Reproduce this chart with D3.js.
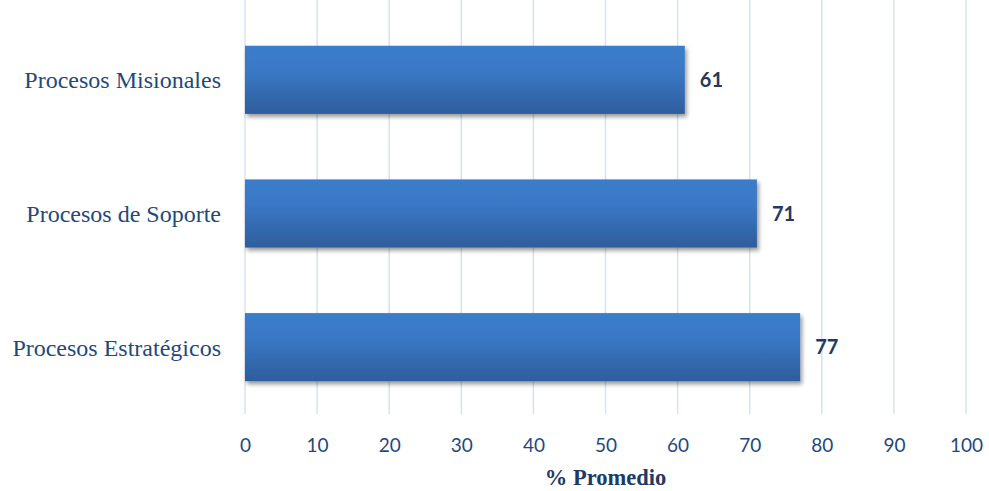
<!DOCTYPE html>
<html>
<head>
<meta charset="utf-8">
<script src="https://cdn.jsdelivr.net/npm/d3@7/dist/d3.min.js"></script>
<style>
  html, body { margin: 0; padding: 0; background: #fff; }
  svg { display: block; }
</style>
</head>
<body>
<svg id="chart" width="989" height="491"></svg>
<script>
// Average percentage per process group
const categories = ["Procesos Misionales", "Procesos de Soporte", "Procesos Estratégicos"];
const values = [61, 71, 77];
const tickValues = [0, 10, 20, 30, 40, 50, 60, 70, 80, 90, 100];
const axisTitle = "% Promedio";

const width = 989, height = 491;
const margin = { left: 245, right: 23, top: 13, bottom: 77 };

const svg = d3.select("#chart");

const x = d3.scaleLinear().domain([0, 100]).range([margin.left, width - margin.right]);
const y = d3.scaleBand().domain(categories).range([margin.top, height - margin.bottom]).paddingInner(0.49).paddingOuter(0.245);

const defs = svg.append("defs");
const grad = defs.append("linearGradient").attr("id", "barFill").attr("x1", 0).attr("y1", 0).attr("x2", 0).attr("y2", 1);
grad.append("stop").attr("offset", "0%").attr("stop-color", "#3b7dcb");
grad.append("stop").attr("offset", "35%").attr("stop-color", "#3a79c6");
grad.append("stop").attr("offset", "100%").attr("stop-color", "#2e5d9c");

const shadow = defs.append("filter").attr("id", "barShadow").attr("x", "-5%").attr("y", "-20%").attr("width", "115%").attr("height", "160%");
shadow.append("feGaussianBlur").attr("in", "SourceAlpha").attr("stdDeviation", 2.2);
shadow.append("feOffset").attr("dx", 2).attr("dy", 3).attr("result", "off");
shadow.append("feComponentTransfer").append("feFuncA").attr("type", "linear").attr("slope", 0.4);
const merge = shadow.append("feMerge");
merge.append("feMergeNode");
merge.append("feMergeNode").attr("in", "SourceGraphic");

// Vertical gridlines
svg.append("g")
  .selectAll("line")
  .data(tickValues)
  .join("line")
  .attr("x1", d => x(d)).attr("x2", d => x(d))
  .attr("y1", 0).attr("y2", height - margin.bottom)
  .attr("stroke", "#d6e2f2")
  .attr("stroke-width", 1.5);

// Bars
svg.append("g")
  .selectAll("rect")
  .data(categories)
  .join("rect")
  .attr("x", x(0))
  .attr("y", d => y(d))
  .attr("width", (d, i) => x(values[i]) - x(0))
  .attr("height", y.bandwidth())
  .attr("fill", "url(#barFill)")
  .attr("filter", "url(#barShadow)");

// Value labels
svg.append("g")
  .selectAll("text")
  .data(categories)
  .join("text")
  .attr("x", (d, i) => x(values[i]) + 15)
  .attr("y", d => y(d) + y.bandwidth() / 2)
  .attr("dy", "0.36em")
  .attr("font-family", "Lato, 'Open Sans', sans-serif")
  .attr("font-weight", "bold")
  .attr("font-size", 20)
  .attr("fill", "#1f3a64")
  .text((d, i) => values[i]);

// Category labels
svg.append("g")
  .selectAll("text")
  .data(categories)
  .join("text")
  .attr("x", 221)
  .attr("y", d => y(d) + y.bandwidth() / 2)
  .attr("dy", "0.35em")
  .attr("text-anchor", "end")
  .attr("font-family", "'Liberation Serif', 'Times New Roman', serif")
  .attr("font-size", 24)
  .attr("fill", "#1f497d")
  .text(d => d);

// Bottom axis tick labels
const xAxis = d3.axisBottom(x).tickValues(tickValues).tickSize(0).tickPadding(0);
const axisG = svg.append("g")
  .attr("transform", `translate(0, ${height - margin.bottom})`)
  .call(xAxis);
axisG.select(".domain").remove();
axisG.selectAll("text")
  .attr("y", 31)
  .attr("dy", "0.35em")
  .attr("font-family", "Lato, 'Open Sans', sans-serif")
  .attr("font-size", 19)
  .attr("fill", "#1f497d");

// Axis title
svg.append("text")
  .attr("x", (x(0) + x(100)) / 2)
  .attr("y", 477)
  .attr("dy", "0.35em")
  .attr("text-anchor", "middle")
  .attr("font-family", "'Liberation Serif', 'Times New Roman', serif")
  .attr("font-weight", "bold")
  .attr("font-size", 22.5)
  .attr("fill", "#1f3a64")
  .text(axisTitle);
</script>
</body>
</html>
